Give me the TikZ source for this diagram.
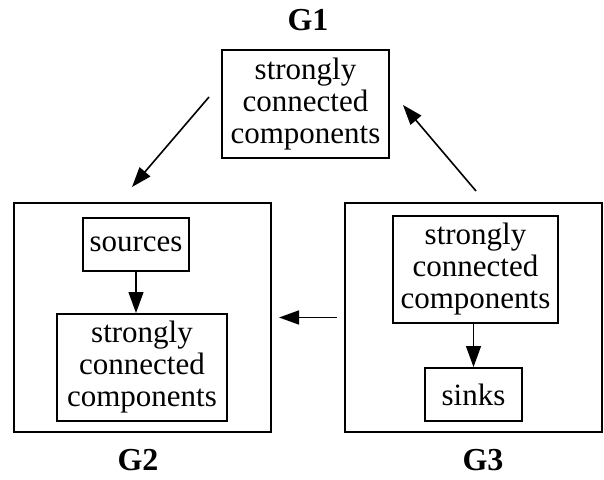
\documentclass[tikz,border=0pt]{standalone}
\usepackage{fontspec}
\setmainfont{Liberation Serif}
\usetikzlibrary{arrows.meta,calc}
\begin{document}
\begin{tikzpicture}[x=1pt,y=-1pt,
  box/.style={draw,line width=2pt,inner sep=0pt,align=center,font=\fontsize{31}{32}\selectfont},
  outer/.style={draw,line width=2pt,inner sep=0pt,minimum width=257pt,minimum height=229pt},
  lbl/.style={font=\fontsize{32}{34}\selectfont\bfseries,inner sep=0pt},
  arr/.style={line width=1.6pt,-{Triangle[length=20pt,width=14pt]}},
  sarr/.style={line width=1.3pt,-{Triangle[length=21pt,width=15pt]}}]
\useasboundingbox (0,0) rectangle (604,479);
\node[box,minimum width=167pt,minimum height=108pt] (g1) at (305.5,104) {strongly\\connected\\components};
\node[lbl] (l1) at (308,20) {G1};
\node[outer] (g2) at (142.5,317.5) {};
\node[outer] (g3) at (473.5,317.5) {};
\node[lbl] (l2) at (138,460) {G2};
\node[lbl] (l3) at (483,460) {G3};
\node[box,minimum width=106pt,minimum height=53pt] (src) at (136,244.5) {sources};
\node[box,minimum width=170pt,minimum height=107pt] (scc2) at (142,367.5) {strongly\\connected\\components};
\node[box,minimum width=165pt,minimum height=107pt] (scc3) at (475.5,269.5) {strongly\\connected\\components};
\node[box,minimum width=97pt,minimum height=53pt] (snk) at (473.5,394.5) {sinks};
\coordinate (a1s) at (209,97);
\coordinate (a1e) at (132,187);
\coordinate (a3s) at (476,191);
\coordinate (a3e) at (403,105);
\draw[arr] (a1s) -- (a1e);
\draw[arr] (a3s) -- (a3e);
\draw[arr,shorten <=7pt,shorten >=7pt] (g3.west) -- (g2.east);
\draw[sarr] (src.south) -- (src.south |- scc2.north);
\draw[sarr] (scc3.south -| snk.north) -- (snk.north);
\end{tikzpicture}
\end{document}
